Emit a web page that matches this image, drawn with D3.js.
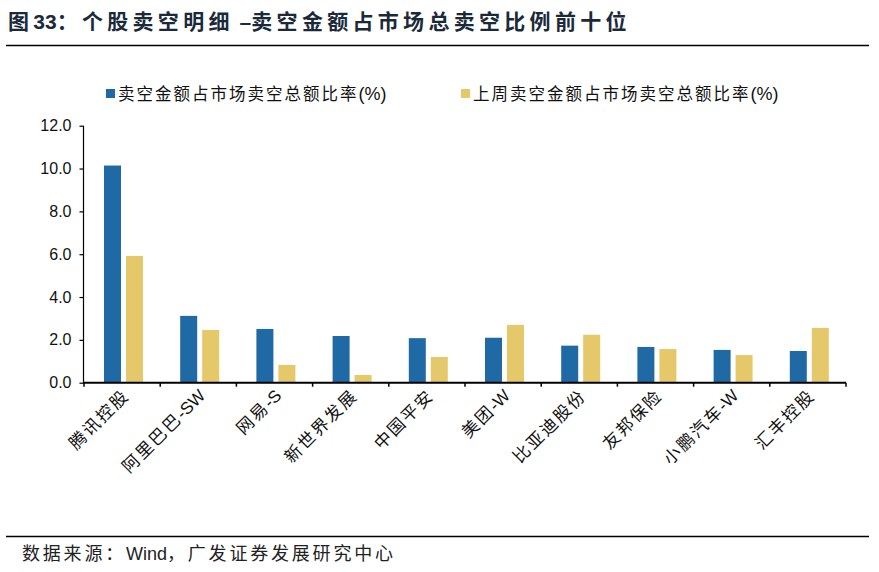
<!DOCTYPE html>
<html><head><meta charset="utf-8">
<script src="https://cdn.jsdelivr.net/npm/d3@7/dist/d3.min.js"></script>
<style>body{margin:0;background:#fff;} svg{display:block;}</style>
</head><body>
<svg id="c" width="879" height="572"></svg>
<script>
const categories = ["腾讯控股","阿里巴巴-SW","网易-S","新世界发展","中国平安","美团-W","比亚迪股份","友邦保险","小鹏汽车-W","汇丰控股"];
const seriesNames = ["卖空金额占市场卖空总额比率(%)","上周卖空金额占市场卖空总额比率(%)"];
const thisWeek = [10.14, 3.12, 2.51, 2.18, 2.08, 2.10, 1.73, 1.67, 1.53, 1.48];
const lastWeek = [5.92, 2.46, 0.83, 0.36, 1.20, 2.70, 2.24, 1.57, 1.29, 2.56];
const yTicks = [0, 2, 4, 6, 8, 10, 12];
const colors = ["#1F6AA5", "#E4C86A"];

const svg = d3.select("#c");
const cjk = "'Liberation Sans', Arial, 'Noto Sans CJK SC', sans-serif";

// split text into CJK / latin runs; only CJK runs get letter-spacing
function spaced(sel, str, sp, latinSize) {
  const runs = str.match(/[\u3000-\u9fff\uff00-\uffef]+|[^\u3000-\u9fff\uff00-\uffef]+/g) || [];
  runs.forEach(r => {
    const isCjk = /[\u3000-\u9fff\uff00-\uffef]/.test(r);
    const ts = sel.append("tspan").attr("letter-spacing", isCjk ? sp : 0).text(r);
    if (!isCjk && latinSize) ts.attr("font-size", latinSize);
  });
}

// title
const title = svg.append("text").attr("x", 8).attr("y", 29)
  .attr("font-family", cjk).attr("font-weight", "bold").attr("font-size", 21)
  .attr("fill", "#1a2a3a");
spaced(title, "图33：个股卖空明细 –卖空金额占市场总卖空比例前十位", 4.3);
svg.append("line").attr("x1", 6).attr("x2", 869).attr("y1", 45.5).attr("y2", 45.5)
  .attr("stroke", "#000").attr("stroke-width", 1.5);
svg.append("line").attr("x1", 6).attr("x2", 869).attr("y1", 536.5).attr("y2", 536.5)
  .attr("stroke", "#000").attr("stroke-width", 1.5);
const foot = svg.append("text").attr("x", 22).attr("y", 560)
  .attr("font-family", cjk).attr("font-size", 18).attr("fill", "#222");
spaced(foot, "数据来源：Wind，广发证券发展研究中心", 2.8);

const x0 = 84, x1 = 846, yTop = 125.7, yBot = 382.7;
const x = d3.scaleBand().domain(categories).range([x0, x1]).paddingInner(0).paddingOuter(0);
const y = d3.scaleLinear().domain([0, 12]).range([yBot, yTop]);

// bars
const bw = 17, gap = 5;
const offs = [20, 20 + bw + gap];
[thisWeek, lastWeek].forEach((vals, si) => {
  svg.append("g").selectAll("rect").data(vals).join("rect")
    .attr("x", (d, i) => x(categories[i]) + offs[si])
    .attr("width", bw)
    .attr("y", d => y(d))
    .attr("height", d => y(0) - y(d))
    .attr("fill", colors[si]);
});

// y axis
const ya = svg.append("g").attr("transform", `translate(${x0 - 0.5},0)`)
  .call(d3.axisLeft(y).tickValues(yTicks).tickFormat(d3.format(".1f")).tickSize(4).tickPadding(8));
ya.selectAll("path,line").attr("stroke", "#000").attr("stroke-width", 1.2);
ya.select("path").attr("d", `M0,${yTop}V${yBot}`);
ya.selectAll("text").attr("font-family", "'Liberation Sans', Arial, sans-serif").attr("font-size", 16).attr("fill", "#111");

// x axis
const xa = svg.append("g").attr("transform", `translate(0,${yBot})`);
xa.append("line").attr("x1", x0 - 1).attr("x2", x1).attr("stroke", "#000").attr("stroke-width", 2);
xa.selectAll("line.tk").data(categories.concat(["__end"])).join("line").attr("class", "tk")
  .attr("x1", (d, i) => i < categories.length ? x(d) : x1)
  .attr("x2", (d, i) => i < categories.length ? x(d) : x1)
  .attr("y1", 0).attr("y2", 4).attr("stroke", "#000").attr("stroke-width", 1.5);
xa.selectAll("text").data(categories).join("text")
  .attr("transform", d => `translate(${x(d) + x.bandwidth() / 2 + 8},${14}) rotate(-45)`)
  .attr("text-anchor", "end")
  .attr("font-family", cjk).attr("font-size", 17).attr("fill", "#111")
  .each(function(d) { spaced(d3.select(this), d, 2); });

// legend
const lg = svg.append("g");
const lx = [106, 461];
seriesNames.forEach((n, i) => {
  lg.append("rect").attr("x", lx[i]).attr("y", 89).attr("width", 9).attr("height", 9).attr("fill", colors[i]);
  const t = lg.append("text").attr("x", lx[i] + 12).attr("y", 100)
    .attr("font-family", cjk).attr("font-size", 16.5).attr("fill", "#111");
  spaced(t, n, 2.0, 18);
});
</script>
</body></html>
